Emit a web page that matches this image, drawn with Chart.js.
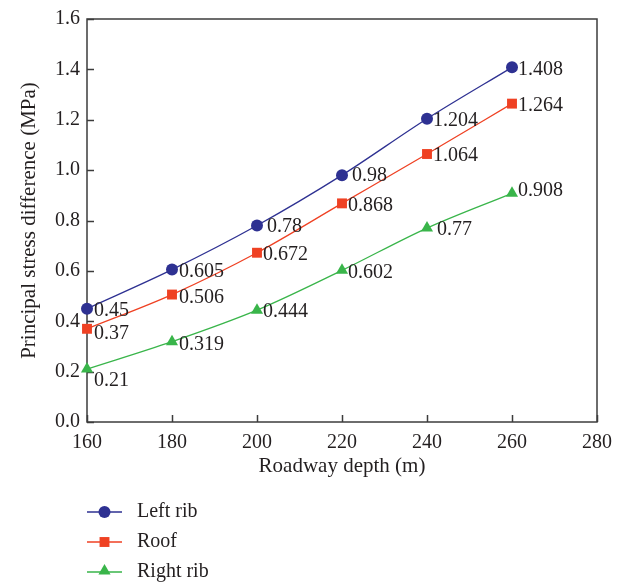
<!DOCTYPE html>
<html>
<head>
<meta charset="utf-8">
<script src="https://cdn.jsdelivr.net/npm/chart.js@4"></script>
<style>
  html, body { margin: 0; padding: 0; background: #fff; }
  #wrap { width: 624px; height: 584px; }
</style>
</head>
<body>
<div id="wrap"><canvas id="grafico"></canvas></div>
<script>
// ── datos ──────────────────────────────────────────────
const profundidad = [160, 180, 200, 220, 240, 260];
const costadoIzq = [0.45, 0.605, 0.78, 0.98, 1.204, 1.408];
const techo = [0.37, 0.506, 0.672, 0.868, 1.064, 1.264];
const costadoDer = [0.21, 0.319, 0.444, 0.602, 0.77, 0.908];
const nombres = ['Left rib', 'Roof', 'Right rib'];
const ticksX = [160, 180, 200, 220, 240, 260, 280];
const ticksY = [0, 0.2, 0.4, 0.6, 0.8, 1.0, 1.2, 1.4, 1.6];

const fuente = "'Liberation Serif', 'Times New Roman', serif";
const texto = '#231f20';
const colores = ['#2e3192', '#ef4123', '#39b54a'];
const estilos = ['circle', 'rect', 'triangle'];
const radios = [6, 7, 7];

// desplazamiento de las etiquetas respecto a cada punto [dx, dy]
const desplaz = [
  [[7, 2], [7, 2], [10, 1], [10, 1], [6, 2], [6, 2]],
  [[7, 5], [7, 3], [6, 2], [6, 2], [6, 2], [6, 2]],
  [[7, 12], [7, 3], [6, 2], [6, 2], [10, 2], [6, -3]]
];

const series = [costadoIzq, techo, costadoDer];

// ── marco y marcas hacia dentro ────────────────────────
const marco = {
  id: 'marco',
  beforeDatasetsDraw(chart) {
    const { ctx, chartArea: a, scales: { x, y } } = chart;
    ctx.save();
    ctx.strokeStyle = '#3c3c3c';
    ctx.lineWidth = 1.5;
    ctx.strokeRect(a.left, a.top, a.right - a.left, a.bottom - a.top);
    ctx.beginPath();
    ticksX.forEach(v => {
      const px = Math.round(x.getPixelForValue(v)) + 0.5;
      ctx.moveTo(px, a.bottom); ctx.lineTo(px, a.bottom - 7);
    });
    ticksY.forEach(v => {
      const py = Math.round(y.getPixelForValue(v)) + 0.5;
      ctx.moveTo(a.left, py); ctx.lineTo(a.left + 7, py);
    });
    ctx.stroke();
    ctx.restore();
  }
};

// ── etiquetas de valores ───────────────────────────────
const etiquetas = {
  id: 'etiquetas',
  afterDatasetsDraw(chart) {
    const ctx = chart.ctx;
    ctx.save();
    ctx.font = '20px ' + fuente;
    ctx.fillStyle = texto;
    ctx.textAlign = 'left';
    ctx.textBaseline = 'middle';
    series.forEach((vals, i) => {
      const meta = chart.getDatasetMeta(i);
      meta.data.forEach((p, j) => {
        const [dx, dy] = desplaz[i][j];
        ctx.fillText(String(vals[j]), p.x + dx, p.y + dy);
      });
    });
    ctx.restore();
  }
};

function marcador(ctx, estilo, r, cx, cy) {
  ctx.beginPath();
  if (estilo === 'circle') {
    ctx.arc(cx, cy, r, 0, Math.PI * 2);
  } else if (estilo === 'rect') {
    const s = r * Math.SQRT1_2;
    ctx.rect(cx - s, cy - s, 2 * s, 2 * s);
  } else {
    const w = r * Math.sqrt(3) / 2;
    ctx.moveTo(cx, cy - r);
    ctx.lineTo(cx + w, cy + r / 2);
    ctx.lineTo(cx - w, cy + r / 2);
    ctx.closePath();
  }
  ctx.fill();
}

// ── leyenda vertical debajo del eje ────────────────────
const leyenda = {
  id: 'leyenda',
  afterDraw(chart) {
    const ctx = chart.ctx;
    ctx.save();
    ctx.font = '20px ' + fuente;
    ctx.textBaseline = 'middle';
    nombres.forEach((n, i) => {
      const y = 512 + i * 30;
      ctx.strokeStyle = colores[i];
      ctx.fillStyle = colores[i];
      ctx.lineWidth = 1.3;
      ctx.beginPath();
      ctx.moveTo(87, y); ctx.lineTo(122, y);
      ctx.stroke();
      marcador(ctx, estilos[i], radios[i], 104.5, i === 2 ? y - 1 : y);
      ctx.fillStyle = texto;
      ctx.fillText(n, 137, y);
    });
    ctx.restore();
  }
};

const conjuntos = series.map((vals, i) => ({
  label: nombres[i],
  data: profundidad.map((d, j) => ({ x: d, y: vals[j] })),
  borderColor: colores[i],
  backgroundColor: colores[i],
  borderWidth: 1.3,
  pointStyle: estilos[i],
  pointRadius: radios[i],
  pointBorderWidth: 0,
  cubicInterpolationMode: 'monotone',
  clip: false,
  fill: false
}));

new Chart(document.getElementById('grafico'), {
  type: 'line',
  data: { datasets: conjuntos },
  options: {
    responsive: true,
    maintainAspectRatio: false,
    animation: false,
    layout: { padding: { top: 12, right: 27, bottom: 104, left: 0 } },
    plugins: { legend: { display: false }, tooltip: { enabled: false } },
    scales: {
      x: {
        type: 'linear',
        min: 160, max: 280,
        afterFit(s) { s.height = 58; },
        afterBuildTicks(s) { s.ticks = ticksX.map(v => ({ value: v })); },
        grid: { display: false, drawTicks: false },
        border: { display: false },
        ticks: { color: texto, font: { family: fuente, size: 20 }, padding: 9, maxRotation: 0 },
        title: { display: true, text: 'Roadway depth (m)', color: texto, font: { family: fuente, size: 21 }, padding: { top: 0, bottom: 1 } }
      },
      y: {
        min: 0, max: 1.6,
        afterFit(s) { s.width = 87; },
        afterBuildTicks(s) { s.ticks = ticksY.map(v => ({ value: v })); },
        grid: { display: false, drawTicks: false },
        border: { display: false },
        ticks: { color: texto, font: { family: fuente, size: 20 }, padding: 7, callback: v => v.toFixed(1) },
        title: { display: true, text: 'Principal stress difference (MPa)', color: texto, font: { family: fuente, size: 21 }, padding: { top: 17, bottom: 0 } }
      }
    }
  },
  plugins: [marco, etiquetas, leyenda]
});
</script>
</body>
</html>
